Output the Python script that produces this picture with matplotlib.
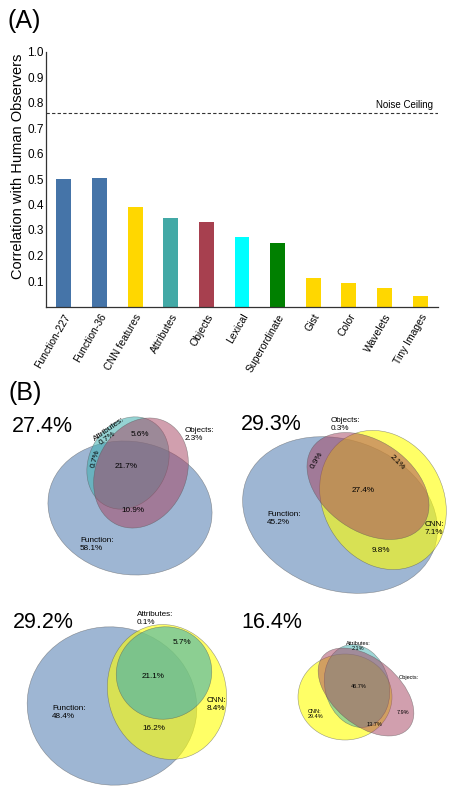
import matplotlib
matplotlib.use("Agg")
import matplotlib.pyplot as plt
from matplotlib.patches import Ellipse

plt.rcParams['font.family'] = ['Liberation Sans', 'DejaVu Sans']

# bar chart data
models = ["Function-227", "Function-36", "CNN features", "Attributes", "Objects",
          "Lexical", "Superordinate", "Gist", "Color", "Wavelets", "Tiny Images"]
corr = [0.50, 0.505, 0.39, 0.347, 0.33, 0.272, 0.249, 0.112, 0.092, 0.071, 0.04]
bar_colors = ["#4574a8", "#4574a8", "#ffd700", "#43a9a6", "#a7404f",
              "#00ffff", "#008000", "#ffd700", "#ffd700", "#ffd700", "#ffd700"]
noise_ceiling = 0.76
yticks = [0.1, 0.2, 0.3, 0.4, 0.5, 0.6, 0.7, 0.8, 0.9, 1.0]

# venn panel data
shared = ["27.4%", "29.3%", "29.2%", "16.4%"]
venn1_text = ["Attributes:", "0.7%", "0.7%", "5.6%", "Objects:\n2.3%", "21.7%", "10.9%", "Function:\n58.1%"]
venn2_text = ["Objects:\n0.3%", "0.9%", "2.1%", "27.4%", "Function:\n45.2%", "CNN:\n7.1%", "9.8%"]
venn3_text = ["Attributes:\n0.1%", "5.7%", "21.1%", "CNN:\n8.4%", "Function:\n48.4%", "16.2%"]
venn4_text = ["Attributes:\n2.1%", "Objects:", "46.7%", "7.9%", "13.7%", "CNN:\n29.4%"]

fig = plt.figure(figsize=(4.56, 7.95), dpi=100)
W, H = 456, 795

# ---- (A) bar chart ----
ax = fig.add_axes([46 / W, 1 - 306.5 / H, (438 - 46) / W, 255 / H])
ax.bar(range(len(models)), corr, width=0.42, color=bar_colors)
ax.axhline(noise_ceiling, color="#333333", ls=(0, (3, 2)), lw=0.8)
ax.text(10.35, noise_ceiling + 0.012, "Noise Ceiling", ha="right", va="bottom", fontsize=7)
ax.set_xlim(-0.5, 10.5)
ax.set_ylim(0, 1.0)
ax.set_yticks(yticks)
ax.set_yticklabels(["%.1f" % t for t in yticks], fontsize=8.5)
ax.set_xticks(range(len(models)))
ax.set_xticklabels(models, rotation=60, ha="right", rotation_mode="anchor", fontsize=7.5)
ax.tick_params(axis="both", length=0, pad=1.5)
ax.tick_params(axis="x", pad=4)
ax.set_ylabel("Correlation with Human Observers", fontsize=10.5)
ax.yaxis.set_label_coords(-0.054, 0.55)
for s in ["top", "right"]:
    ax.spines[s].set_visible(False)
for s in ["left", "bottom"]:
    ax.spines[s].set_color("#333333")
    ax.spines[s].set_linewidth(0.9)

fig.text(8 / W, 1 - 21 / H, "(A)", fontsize=18, va="center")
fig.text(9 / W, 1 - 393 / H, "(B)", fontsize=18, va="center")

# ---- (B) venn diagrams, drawn in pixel coordinates ----
av = fig.add_axes([0, 0, 1, 1])
av.set_xlim(0, W)
av.set_ylim(H, 0)
av.axis("off")

blue = "#3f6fa8"
yellow = "#ffff00"
maroon = "#a4405e"
teal = "#3fb0b0"

def ell(x, y, w, h, ang, col, a):
    av.add_patch(Ellipse((x, y), w, h, angle=ang, facecolor=col, alpha=a,
                         edgecolor="none"))
    av.add_patch(Ellipse((x, y), w, h, angle=ang, facecolor="none",
                         edgecolor="#555555", lw=0.4, alpha=0.6))

# panel 1
ell(130, 508, 165, 133, 10, blue, 0.5)
ell(128, 463, 78, 96, 28, teal, 0.55)
ell(141, 473, 90, 114, 25, maroon, 0.5)
# panel 2
ell(340, 515, 200, 150, 20, blue, 0.5)
ell(383, 500, 120, 145, -30, yellow, 0.6)
ell(368, 486, 135, 90, 35, maroon, 0.5)
# panel 3
ell(112, 706, 170, 158, 10, blue, 0.5)
ell(167, 692, 118, 136, -15, yellow, 0.6)
ell(164, 673, 96, 92, -20, teal, 0.6)
# panel 4
ell(345, 697, 94, 86, 0, yellow, 0.6)
ell(357, 686, 64, 84, -15, teal, 0.5)
ell(366, 692, 112, 66, 40, maroon, 0.5)

fs = 5.9
for (x, y), t in zip([(12, 427), (241, 425), (13, 622), (241, 622)], shared):
    av.text(x, y, t, fontsize=15.5, va="center", ha="left")

pos1 = [(109, 429, 35, "center"), (107, 438, 35, "center"), (96, 459, 75, "center"),
        (140, 434, 0, "center"), (185, 434, 0, "left"), (126, 466, 0, "center"),
        (133, 510, 0, "center"), (80, 545, 0, "left")]
for (x, y, r, ha), t in zip(pos1, venn1_text):
    av.text(x, y, t, fontsize=fs, rotation=r, ha=ha, va="center", linespacing=1.2)

pos2 = [(331, 425, 0, "left"), (317, 460, 60, "center"), (397, 462, -45, "center"),
        (363, 491, 0, "center"), (267, 518, 0, "left"), (425, 528, 0, "left"),
        (381, 550, 0, "center")]
for (x, y, r, ha), t in zip(pos2, venn2_text):
    av.text(x, y, t, fontsize=fs, rotation=r, ha=ha, va="center", linespacing=1.2)

pos3 = [(137, 618, 0, "left"), (182, 643, 0, "center"), (153, 676, 0, "center"),
        (207, 704, 0, "left"), (52, 712, 0, "left"), (154, 728, 0, "center")]
for (x, y, r, ha), t in zip(pos3, venn3_text):
    av.text(x, y, t, fontsize=fs, rotation=r, ha=ha, va="center", linespacing=1.2)

pos4 = [(358, 646, "center"), (399, 678, "left"), (359, 687, "center"),
        (403, 713, "center"), (375, 725, "center"), (308, 714, "left")]
for (x, y, ha), t in zip(pos4, venn4_text):
    av.text(x, y, t, fontsize=4, ha=ha, va="center", linespacing=1.1)

fig.savefig("out.png", dpi=100)
